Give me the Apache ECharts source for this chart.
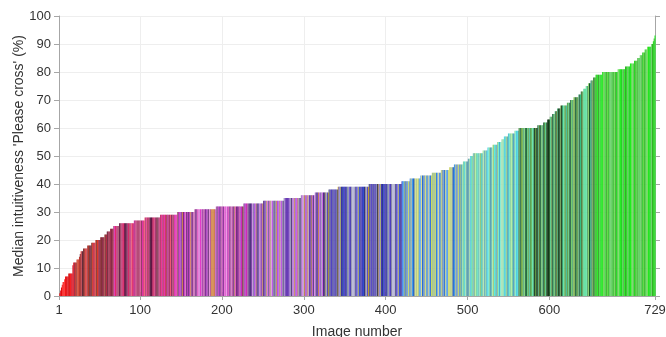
<!DOCTYPE html>
<html>
<head>
<meta charset="utf-8">
<script src="https://cdn.jsdelivr.net/npm/echarts@6/dist/echarts.min.js"></script>
<style>
html, body { margin: 0; padding: 0; background: #fff; }
#main { width: 666px; height: 337px; }
</style>
</head>
<body>
<div id="main"></div>
<script>
// median level of each run, and the last image number in that run (sorted ascending)
var runLevels = [0, 1, 2, 3, 4, 5, 6, 7, 8,
    11, 12, 13, 14, 15, 16, 17, 18, 19, 20,
    21, 22, 23, 24, 25, 26, 27, 28, 29, 30,
    31, 32, 33, 34, 35, 36, 37, 38, 39, 40,
    41, 42, 43, 44, 45, 46, 47, 48, 49, 50,
    51, 52, 53, 54, 55, 56, 57, 58, 59, 60,
    61, 62, 63, 64, 65, 66, 67, 68, 69, 70,
    71, 72, 73, 74, 75, 76, 77, 78, 79, 80,
    81, 82, 83, 84, 85, 86, 87, 88, 89, 90,
    91, 92, 93];
var runEnds = [1, 2, 3, 4, 5, 7, 8, 12, 17,
    18, 22, 25, 26, 27, 30, 35, 40, 45, 51,
    56, 59, 63, 67, 74, 92, 105, 124, 145, 166,
    192, 226, 250, 275, 296, 313, 330, 341, 379, 419,
    429, 442, 456, 467, 477, 483, 494, 500, 503, 506,
    518, 524, 530, 536, 541, 544, 549, 557, 562, 585,
    592, 597, 600, 603, 606, 609, 613, 621, 625, 629,
    635, 638, 641, 644, 647, 650, 653, 656, 664, 683,
    692, 698, 703, 707, 710, 713, 716, 719, 724, 726,
    727, 728, 729];

var xTicks = [1, 100, 200, 300, 400, 500, 600, 729];

// colour families along the sorted images
var zoneEnds = [19, 67, 146, 232, 326, 420, 491, 562, 655, 729];
var zoneColors = [
    ['#e00000', '#c80000', '#f01010', '#a00010', '#d81020', '#ff2020'],
    ['#8b1a2a', '#b02030', '#d0402b', '#5a1030', '#f04020', '#9a2848', '#400818', '#d03050', '#7a2a2a', '#e02040', '#a04040'],
    ['#d81b60', '#f01e70', '#ff5a6e', '#5a1040', '#9c2a6b', '#c2185b', '#b04070', '#f0409a', '#802050', '#e030b0', '#a05060', '#d04080', '#400a30'],
    ['#c040c0', '#e030d0', '#a040c0', '#d070d0', '#7a2a8a', '#f060c0', '#d08040', '#b050b0', '#f090e0', '#5a1a6a', '#c060a0', '#9050a0', '#e020c0'],
    ['#b040e0', '#9060c0', '#c080e0', '#706090', '#c08040', '#e090e0', '#6030b0', '#a070d0', '#9090b0', '#4a2a7a', '#d060f0', '#b0a0c0', '#6a50a0'],
    ['#4030c0', '#6050d0', '#8080c0', '#1a20b0', '#a0a060', '#f0c020', '#3050e0', '#7070a0', '#5040a0', '#9090d0', '#101a50', '#4a4aa0', '#b0b0d0', '#6a6a8a'],
    ['#4080e0', '#2090f0', '#60a0e0', '#80b0d0', '#a0c080', '#d0e060', '#2060d0', '#50b0f0', '#90a0b0', '#3a70c0', '#e0e080', '#6080a0'],
    ['#40c0e0', '#60e0c0', '#80d0a0', '#20b0d0', '#a0e0b0', '#50f0f0', '#3a9ac0', '#70f0d0', '#90c070', '#30e0e0', '#60a0b0', '#b0f0a0'],
    ['#206040', '#309060', '#50b080', '#40c0a0', '#70a040', '#1a4a1a', '#60e0a0', '#3c8040', '#80d060', '#0a3010', '#50a050', '#40e0a0', '#608030'],
    ['#20e020', '#30d030', '#50c040', '#10f010', '#60d060', '#40b030', '#20c820', '#70e050', '#38a028', '#00e000']
];

var barData = [];
var start = 1;
for (var r = 0; r < runEnds.length; r++) {
    for (var n = start; n <= runEnds[r]; n++) {
        barData.push([n, runLevels[r]]);
    }
    start = runEnds[r] + 1;
}

function barColor(n) {
    var z = 0;
    while (z < zoneEnds.length - 1 && n > zoneEnds[z]) z++;
    var pal = zoneColors[z];
    return pal[(n * 37 + Math.floor(n * n / 7)) % pal.length];
}

var axisGray = '#a6a6a6';
var font = 'Liberation Sans';

var chart = echarts.init(document.getElementById('main'));
chart.setOption({
    animation: false,
    grid: { left: 59, right: 11, top: 16, bottom: 41, outerBoundsMode: 'none' },
    xAxis: [{
        type: 'value', min: 1, max: 729,
        name: 'Image number', nameLocation: 'middle', nameGap: 29, nameMoveOverlap: false,
        nameTextStyle: { color: '#333', fontSize: 14, fontFamily: font },
        axisLine: { show: true, lineStyle: { color: axisGray } },
        axisTick: { show: true, length: 4, customValues: xTicks, lineStyle: { color: axisGray } },
        axisLabel: { customValues: xTicks, margin: 8, color: '#333', fontSize: 13, fontFamily: font },
        splitLine: { show: true, lineStyle: { color: '#eeeeee' } }
    }, {
        type: 'value', min: 1, max: 729, position: 'top',
        axisLine: { show: true, lineStyle: { color: axisGray } },
        axisTick: { show: true, length: 4, customValues: xTicks, lineStyle: { color: axisGray } },
        axisLabel: { show: false },
        splitLine: { show: false }
    }],
    yAxis: [{
        type: 'value', min: 0, max: 100, interval: 10,
        name: "Median intuitiveness 'Please cross' (%)", nameLocation: 'middle', nameGap: 33, nameMoveOverlap: false,
        nameTextStyle: { color: '#333', fontSize: 14, fontFamily: font },
        axisLine: { show: true, lineStyle: { color: axisGray } },
        axisTick: { show: true, length: 5, lineStyle: { color: axisGray } },
        axisLabel: { margin: 8, color: '#333', fontSize: 13, fontFamily: font },
        splitLine: { show: true, lineStyle: { color: '#eeeeee' } }
    }, {
        type: 'value', min: 0, max: 100, interval: 10, position: 'right',
        axisLine: { show: true, lineStyle: { color: axisGray } },
        axisTick: { show: true, length: 5, lineStyle: { color: axisGray } },
        axisLabel: { show: false },
        splitLine: { show: false }
    }],
    series: [{
        type: 'bar',
        xAxisIndex: 0, yAxisIndex: 0,
        data: barData,
        barWidth: 1,
        itemStyle: {
            color: function (p) { return barColor(p.data[0]); }
        }
    }]
});
</script>
</body>
</html>
